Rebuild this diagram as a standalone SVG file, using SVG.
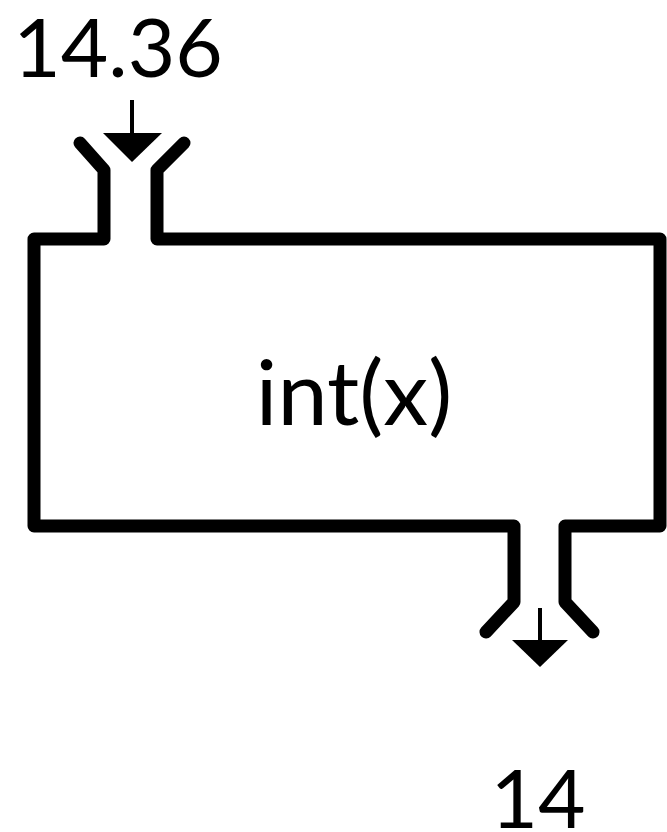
<svg xmlns="http://www.w3.org/2000/svg" width="667" height="832" viewBox="0 0 667 832">
<style>
.wall{fill:none;stroke:#000;stroke-width:13;stroke-linejoin:round;stroke-linecap:round}
.lbl{font-family:Lato,"Open Sans","Liberation Sans",sans-serif;fill:#000}
</style>
<rect width="667" height="832" fill="#fff"/>
<g id="func">
<path class="wall" d="M80,143 L104,170 L104,239 L34,239 L34,526 L514,526 L514,602 L486,632"/>
<path class="wall" d="M184,143 L157,170 L157,239 L660,239 L660,526 L565,526 L565,602 L593,632"/>
<text class="lbl" x="354" y="425" font-size="90" text-anchor="middle">int(x)</text>
</g>
<g id="input">
<text class="lbl" x="118" y="77" font-size="82" text-anchor="middle">14.36</text>
</g>
<g id="output">
<text class="lbl" x="538" y="828" font-size="82" text-anchor="middle">14</text>
</g>
<g id="connectors">
<line x1="132" y1="100" x2="132" y2="136" stroke="#000" stroke-width="4"/>
<polygon points="103,133 162,133 132,162" fill="#000"/>
<line x1="540" y1="608" x2="540" y2="643" stroke="#000" stroke-width="4"/>
<polygon points="512,640 568,640 540,667" fill="#000"/>
</g>
</svg>
